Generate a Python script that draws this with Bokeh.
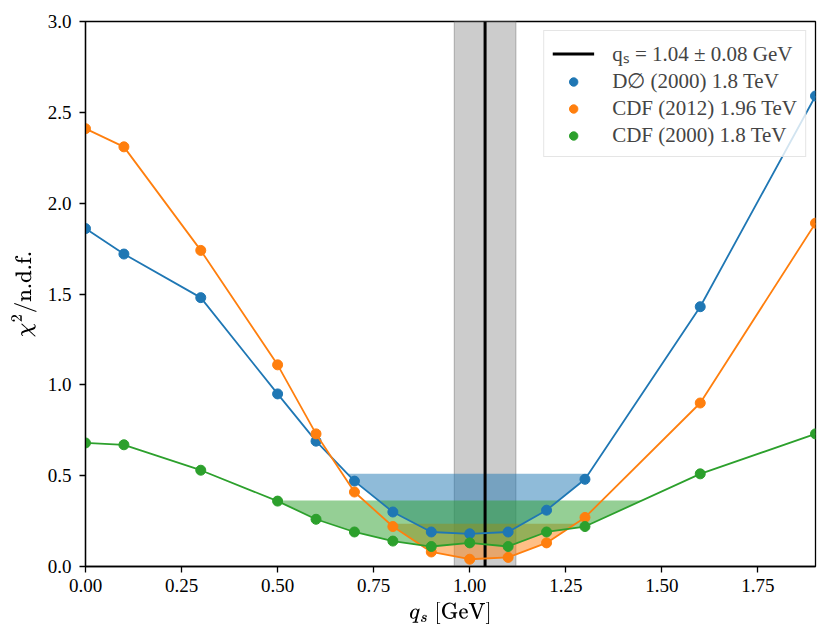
from bokeh.plotting import figure
from bokeh.models import (Legend, LegendItem, BoxAnnotation, FixedTicker,
                          NumeralTickFormatter, Range1d)
from bokeh.embed import file_html
from bokeh.resources import INLINE

# ---- data ----
qs_grid = [0.0, 0.1, 0.3, 0.5, 0.6, 0.7, 0.8, 0.9, 1.0, 1.1, 1.2, 1.3, 1.6, 1.9]
d0_2000 = [1.86, 1.72, 1.48, 0.95, 0.69, 0.47, 0.30, 0.19, 0.18, 0.19, 0.31, 0.48, 1.43, 2.59]
cdf_2012 = [2.41, 2.31, 1.74, 1.11, 0.73, 0.41, 0.22, 0.08, 0.04, 0.05, 0.13, 0.27, 0.90, 1.89]
cdf_2000 = [0.68, 0.67, 0.53, 0.36, 0.26, 0.19, 0.14, 0.11, 0.13, 0.11, 0.19, 0.22, 0.51, 0.73]
thresholds = [0.51, 0.236, 0.363]
series_names = ["D\u2205 (2000) 1.8 TeV", "CDF (2012) 1.96 TeV", "CDF (2000) 1.8 TeV"]
colors = ["#1f77b4", "#ff7f0e", "#2ca02c"]
qs_best = 1.04
qs_err = 0.08
x_ticks = [0.0, 0.25, 0.5, 0.75, 1.0, 1.25, 1.5, 1.75]
y_ticks = [0.0, 0.5, 1.0, 1.5, 2.0, 2.5, 3.0]
x_min, x_max = 0.0, 1.9
y_min, y_max = 0.0, 3.0

FONT = "Liberation Serif"

p = figure(width=822, height=634, output_backend="svg", toolbar_location=None,
           x_range=Range1d(x_min, x_max), y_range=Range1d(y_min, y_max),
           min_border_left=85, min_border_right=7, min_border_top=21,
           min_border_bottom=68)
p.xgrid.visible = False
p.ygrid.visible = False
p.outline_line_color = "black"
p.outline_line_width = 1.3
p.background_fill_color = "white"
p.border_fill_color = "white"

for ax in (p.xaxis[0], p.yaxis[0]):
    ax.axis_line_width = 1.3
    ax.major_tick_line_width = 1.3
    ax.major_tick_out = 6
    ax.major_tick_in = 0
    ax.minor_tick_out = 0
    ax.minor_tick_in = 0
    ax.major_label_text_font = FONT
    ax.major_label_text_font_size = "19px"
    ax.major_label_text_color = "black"
    ax.axis_label_text_font = FONT
    ax.axis_label_text_font_size = "20px"
    ax.axis_label_text_font_style = "normal"
    ax.axis_label_text_color = "black"

p.xaxis.ticker = FixedTicker(ticks=x_ticks)
p.xaxis.formatter = NumeralTickFormatter(format="0.00")
p.yaxis.ticker = FixedTicker(ticks=y_ticks)
p.yaxis.formatter = NumeralTickFormatter(format="0.0")
p.xaxis.major_label_standoff = 6
p.yaxis.major_label_standoff = 8
p.yaxis.axis_label = r"$$\chi^2/\text{n.d.f.}$$"
p.yaxis.axis_label_standoff = 8
p.xaxis.axis_label = r"$$q_s\ [\text{GeV}]$$"
p.xaxis.axis_label_standoff = 7

# uncertainty band
band = BoxAnnotation(left=qs_best - qs_err, right=qs_best + qs_err,
                     fill_color="gray", fill_alpha=0.4,
                     line_color="#808080", line_alpha=0.5, line_width=1.2,
                     level="underlay")
p.add_layout(band)


def region(x, y, thr):
    xs, ys = [], []
    n = len(x)
    for i in range(n):
        if y[i] < thr:
            if i > 0 and y[i - 1] >= thr:
                t = (thr - y[i - 1]) / (y[i] - y[i - 1])
                xs.append(x[i - 1] + t * (x[i] - x[i - 1]))
                ys.append(thr)
            xs.append(x[i])
            ys.append(y[i])
            if i < n - 1 and y[i + 1] >= thr:
                t = (thr - y[i]) / (y[i + 1] - y[i])
                xs.append(x[i] + t * (x[i + 1] - x[i]))
                ys.append(thr)
    return xs, ys


all_series = [d0_2000, cdf_2012, cdf_2000]
for ys_, thr, c in zip(all_series, thresholds, colors):
    fx, fy = region(qs_grid, ys_, thr)
    p.varea(x=fx, y1=fy, y2=thr, fill_color=c, fill_alpha=0.5)

vline = p.segment(x0=[qs_best], y0=[y_min], x1=[qs_best], y1=[y_max],
                  line_color="black", line_width=3)

scatter_rs = []
for ys_, c in zip(all_series, colors):
    p.line(qs_grid, ys_, line_color=c, line_width=1.8)
    r = p.scatter(qs_grid, ys_, size=10, fill_color=c, line_color=c)
    scatter_rs.append(r)

items = [LegendItem(label="q\u209b = 1.04 \u00b1 0.08 GeV", renderers=[vline])]
for name, r in zip(series_names, scatter_rs):
    items.append(LegendItem(label=name, renderers=[r]))

legend = Legend(items=items, location="top_right", margin=9, padding=8,
                spacing=2, label_height=21, glyph_height=21, glyph_width=42,
                label_standoff=18, label_text_font=FONT,
                label_text_font_size="21px", border_line_color="#cccccc",
                border_line_width=1, background_fill_alpha=0.8)
p.add_layout(legend)

open("out.html", "w").write(file_html(p, INLINE))
